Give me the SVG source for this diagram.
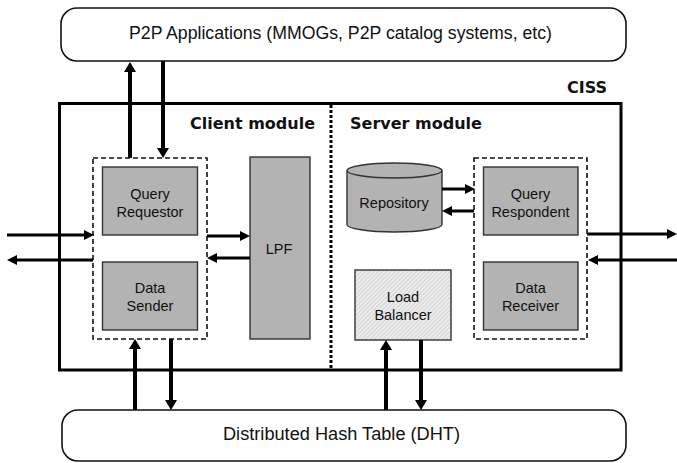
<svg xmlns="http://www.w3.org/2000/svg" width="677" height="463" viewBox="0 0 677 463">
<style>
.t{font-family:"Liberation Sans",Arial,sans-serif;fill:#111;text-anchor:middle}
.big{font-size:17.5px}
.sm{font-size:14.5px}
.b{font-family:"DejaVu Sans",Verdana,sans-serif;font-weight:bold;font-size:16px;fill:#111}
.round{fill:#fff;stroke:#111;stroke-width:1.6}
.gray{fill:#b3b3b3;stroke:#333;stroke-width:1.4}
.dash{fill:none;stroke:#111;stroke-width:1.6;stroke-dasharray:5 3}
.v{stroke:#000;stroke-width:4;fill:none}
.h{stroke:#000;stroke-width:3;fill:none}
</style>
<defs>
<marker id="ah" viewBox="0 0 10 12" refX="2" refY="6" markerWidth="10" markerHeight="12" markerUnits="userSpaceOnUse" orient="auto">
<path d="M0,0 L10,6 L0,12 z" fill="#000"/>
</marker>
<marker id="ahs" viewBox="0 0 10 10" refX="2" refY="5" markerWidth="10" markerHeight="10" markerUnits="userSpaceOnUse" orient="auto">
<path d="M0,0 L10,5 L0,10 z" fill="#000"/>
</marker>
<pattern id="hatch" width="3" height="3" patternUnits="userSpaceOnUse" patternTransform="rotate(45)">
<rect width="3" height="3" fill="#ececec"/>
<line x1="0" y1="0" x2="0" y2="3" stroke="#bdbdbd" stroke-width="1"/>
</pattern>
</defs>

<g id="p2p-apps">
<rect class="round" x="61" y="8" width="565" height="53" rx="16"/>
<text class="t big" x="340.5" y="39" textLength="423" lengthAdjust="spacingAndGlyphs">P2P Applications (MMOGs, P2P catalog systems, etc)</text>
</g>

<g id="ciss">
<rect x="59.5" y="103.5" width="561.5" height="266.5" fill="none" stroke="#000" stroke-width="3"/>
<text class="b" x="607" y="93" text-anchor="end">CISS</text>
<line x1="331" y1="105" x2="331" y2="368" stroke="#000" stroke-width="3" stroke-dasharray="3 2"/>
</g>

<g id="client-module">
<text class="b" x="190" y="129">Client module</text>
<rect class="dash" x="93" y="158" width="114" height="181"/>
</g>

<g id="query-requestor">
<rect class="gray" x="102.5" y="167" width="95" height="68"/>
<text class="t sm" x="150" y="199">Query</text>
<text class="t sm" x="150" y="217">Requestor</text>
</g>

<g id="data-sender">
<rect class="gray" x="102.5" y="262" width="95" height="68"/>
<text class="t sm" x="150" y="293">Data</text>
<text class="t sm" x="150" y="311">Sender</text>
</g>

<g id="lpf">
<rect class="gray" x="250" y="157" width="60" height="182"/>
<text class="t sm" x="279" y="254">LPF</text>
</g>

<g id="server-module">
<text class="b" x="350" y="129">Server module</text>
<rect class="dash" x="474" y="158" width="113" height="181"/>
</g>

<g id="repository">
<path class="gray" d="M347,170.5 L347,224.5 A47.5,7.5 0 0 0 442,224.5 L442,170.5"/>
<ellipse class="gray" cx="394.5" cy="170.5" rx="47.5" ry="7.5"/>
<text class="t sm" x="394" y="208">Repository</text>
</g>

<g id="query-respondent">
<rect class="gray" x="483.5" y="167" width="94.5" height="68"/>
<text class="t sm" x="530.5" y="199">Query</text>
<text class="t sm" x="530.5" y="217">Respondent</text>
</g>

<g id="data-receiver">
<rect class="gray" x="483.5" y="262" width="94.5" height="68"/>
<text class="t sm" x="530.5" y="293">Data</text>
<text class="t sm" x="530.5" y="311">Receiver</text>
</g>

<g id="load-balancer">
<rect x="355" y="270" width="96" height="70" fill="url(#hatch)" stroke="#333" stroke-width="1.4"/>
<text class="t sm" x="403" y="302">Load</text>
<text class="t sm" x="403" y="320">Balancer</text>
</g>

<g id="dht">
<rect class="round" x="62" y="410" width="564" height="51" rx="16"/>
<text class="t big" x="341.5" y="440" textLength="237" lengthAdjust="spacingAndGlyphs">Distributed Hash Table (DHT)</text>
</g>

<g id="connectors">
<line class="v" x1="130" y1="158" x2="130" y2="70" marker-end="url(#ah)"/>
<line class="v" x1="163" y1="61" x2="163" y2="150" marker-end="url(#ah)"/>
<line class="v" x1="135" y1="410" x2="135" y2="347" marker-end="url(#ah)"/>
<line class="v" x1="171" y1="339" x2="171" y2="402" marker-end="url(#ah)"/>
<line class="v" x1="386" y1="410" x2="386" y2="348" marker-end="url(#ah)"/>
<line class="v" x1="421" y1="340" x2="421" y2="402" marker-end="url(#ah)"/>
<line class="h" x1="7" y1="235" x2="86" y2="235" marker-end="url(#ahs)"/>
<line class="h" x1="93" y1="260" x2="15" y2="260" marker-end="url(#ahs)"/>
<line class="h" x1="207" y1="236" x2="242" y2="236" marker-end="url(#ahs)"/>
<line class="h" x1="250" y1="258" x2="215" y2="258" marker-end="url(#ahs)"/>
<line class="h" x1="442" y1="189" x2="467" y2="189" marker-end="url(#ahs)"/>
<line class="h" x1="474" y1="211" x2="450" y2="211" marker-end="url(#ahs)"/>
<line class="h" x1="587" y1="234" x2="669" y2="234" marker-end="url(#ahs)"/>
<line class="h" x1="677" y1="260" x2="596" y2="260" marker-end="url(#ahs)"/>
</g>
</svg>
